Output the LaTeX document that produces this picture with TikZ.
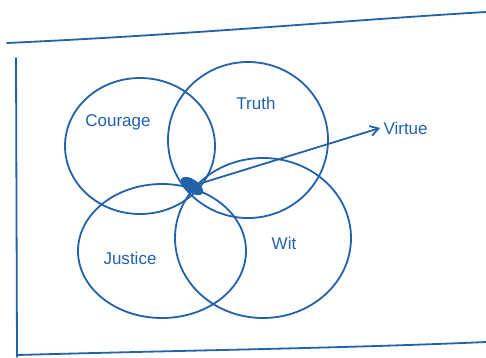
\documentclass[tikz,border=0pt]{standalone}
\usepackage{fontspec}
\setmainfont{Liberation Sans}
\usetikzlibrary{arrows.meta,shapes.geometric}
\definecolor{ink}{RGB}{34,98,168}
\begin{document}
\begin{tikzpicture}[x=1pt,y=-1pt,
  pen/.style={draw=ink,line width=1.8pt,line cap=round},
  lbl/.style={text=ink,font=\fontsize{17}{19}\selectfont}]
\useasboundingbox (0,0) rectangle (486,357);
\fill[white] (0,0) rectangle (486,357);
% frame
\coordinate (tl) at (7,43); \coordinate (tr) at (486,12);
\coordinate (lt) at (16,58); \coordinate (lb) at (17,357);
\coordinate (bl) at (17,355); \coordinate (br) at (486,342);
\draw[pen] (tl) .. controls (200,34) and (350,20) .. (tr);
\draw[pen] (lt) -- (lb);
\draw[pen] (bl) .. controls (200,350) and (350,348) .. (br);
% circles
\node[pen,ellipse,minimum width=150pt,minimum height=136pt,inner sep=0pt] (courage) at (140,146) {};
\node[pen,ellipse,minimum width=160pt,minimum height=156pt,inner sep=0pt] (truth) at (248,140) {};
\node[pen,ellipse,minimum width=168pt,minimum height=134pt,inner sep=0pt] (justice) at (162,251) {};
\node[pen,ellipse,minimum width=176pt,minimum height=160pt,inner sep=0pt] (wit) at (263,238) {};
% centre blob
\node[fill=ink,ellipse,rotate=-35,minimum width=26pt,minimum height=13pt,inner sep=0pt] (core) at (192,186) {};
% labels
\node[lbl] (lc) at (118,122) {Courage};
\node[lbl] (lt2) at (256,103) {Truth};
\node[lbl] (lj) at (130,258) {Justice};
\node[lbl] (lw) at (284,243) {Wit};
\node[lbl,anchor=west] (virtue) at (380,128) {Virtue};
\draw[pen,-{Straight Barb[length=8pt,width=10pt]}] (core.center) -- (virtue.west);
\end{tikzpicture}
\end{document}
